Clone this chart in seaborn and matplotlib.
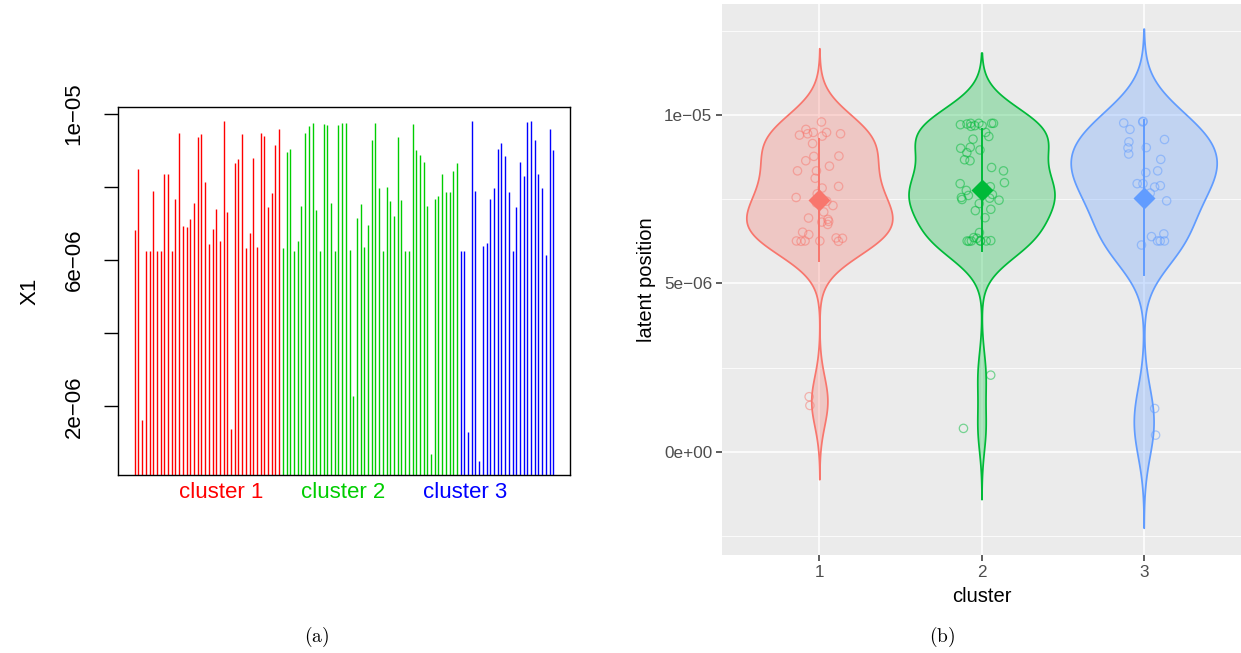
import numpy as np
import pandas as pd
import matplotlib
matplotlib.use("Agg")
import matplotlib.pyplot as plt
import seaborn as sns

# ---------------- data (values in units of 1e-06) ----------------
cluster1 = [6.82, 8.48, 1.64, 6.26, 6.25, 7.88, 6.25, 6.26, 8.34, 8.34,
            6.26, 7.66, 9.48, 6.94, 6.90, 7.12, 7.55, 9.37, 9.44, 8.12,
            6.45, 6.84, 7.39, 6.52, 9.79, 7.31, 1.38, 8.64, 8.77, 9.44,
            6.34, 6.75, 8.78, 6.35, 9.48, 9.40, 7.44, 7.83, 9.15, 9.57]
cluster2 = [6.34, 8.96, 9.04, 6.26, 6.51, 7.47, 9.48, 9.66, 9.75, 7.37,
            6.26, 9.73, 9.68, 7.55, 6.26, 9.68, 9.75, 9.75, 6.27, 2.28,
            7.16, 7.53, 6.36, 6.95, 9.28, 9.75, 7.96, 6.25, 7.99, 7.61,
            7.20, 9.36, 7.64, 6.26, 6.26, 9.71, 9.01, 8.88, 8.67, 7.49,
            0.70, 7.67, 7.76, 8.34, 7.87, 7.86, 8.44, 8.64]
cluster3 = [6.26, 6.26, 1.29, 9.79, 7.90, 0.50, 6.39, 6.47, 7.68, 7.96,
            9.03, 9.20, 8.84, 7.86, 6.26, 7.45, 8.68, 8.29, 9.76, 9.81,
            9.27, 8.34, 7.96, 6.14, 9.57, 9.02]
scale = 1e-6
cluster_names = ["1", "2", "3"]
bar_labels = ["cluster 1", "cluster 2", "cluster 3"]
left_yticks = [2e-6, 4e-6, 6e-6, 8e-6, 1e-5]
left_yticklabels = ["2e\u221206", "", "6e\u221206", "", "1e\u221205"]
right_yticks = [0, 5e-6, 1e-5]
right_yticklabels = ["0e+00", "5e\u221206", "1e\u221205"]

groups = [cluster1, cluster2, cluster3]
bar_cols = ["#FF0000", "#00CD00", "#0000FF"]
gg_cols = ["#F8766D", "#00BA38", "#619CFF"]

values = np.concatenate([np.array(g) * scale for g in groups])
labels = np.concatenate([[n] * len(g) for n, g in zip(cluster_names, groups)])
df = pd.DataFrame({"cluster": labels, "value": values})

plt.rcParams["font.family"] = ["Liberation Sans", "DejaVu Sans"]
plt.rcParams["mathtext.fontset"] = "cm"

W, H = 1241, 653
fig = plt.figure(figsize=(W / 100, H / 100), dpi=100)

# ---------------- left panel ----------------
ax1 = fig.add_axes([118 / W, 1 - 475 / H, (570 - 118) / W, (475 - 107) / H])
idx = np.arange(1, len(values) + 1)
cols = np.concatenate([[c] * len(g) for c, g in zip(bar_cols, groups)])
ax1.vlines(idx, 0, values, colors=cols, linewidth=1.0)
ax1.set_xlim(1 - 0.04 * (len(values) - 1), len(values) + 0.04 * (len(values) - 1))
rng = values.max() - values.min()
ax1.set_ylim(values.min() - 0.04 * rng, values.max() + 0.04 * rng)
ax1.set_xticks([])
ax1.set_yticks(left_yticks)
ax1.set_yticklabels(left_yticklabels, rotation=90, va="center", fontsize=16)
ax1.tick_params(axis="y", length=10, width=1.0, pad=14, color="black")
for s in ax1.spines.values():
    s.set_linewidth(1.0)
    s.set_color("black")
ax1.set_ylabel("X1", fontsize=16)
ax1.yaxis.set_label_coords((41 - 118) / 452, 0.5)
for lab, col, xf in zip(bar_labels, bar_cols, [0.228, 0.498, 0.768]):
    ax1.text(xf, -(492 - 475) / 368, lab, color=col, fontsize=16,
             ha="center", va="center", transform=ax1.transAxes)

# ---------------- right panel ----------------
ax2 = fig.add_axes([722 / W, 1 - 555 / H, (W - 722) / W, (555 - 4) / H])
ax2.set_facecolor("#EBEBEB")
pal = dict(zip(cluster_names, gg_cols))


def nrd0(kde):
    x = np.asarray(kde.dataset).ravel()
    n = x.size
    sd = x.std(ddof=1)
    q75, q25 = np.percentile(x, [75, 25])
    lo = min(sd, (q75 - q25) / 1.34)
    return 0.9 * lo * n ** (-0.2) / sd


sns.violinplot(data=df, x="cluster", y="value", hue="cluster", order=cluster_names,
               hue_order=cluster_names, palette=pal, cut=3, bw_method=nrd0,
               density_norm="width", width=0.9, inner=None, saturation=1,
               linewidth=1.2, gridsize=512, legend=False, ax=ax2)
for coll in ax2.collections:
    fc = coll.get_facecolor()
    if len(fc):
        r, g, b, _ = fc[0]
        coll.set_facecolor((r, g, b, 0.3))
        coll.set_edgecolor((r, g, b, 1.0))
        coll.set_linewidth(1.25)

n_before = len(ax2.collections)
np.random.seed(3)
sns.stripplot(data=df, x="cluster", y="value", hue="cluster", order=cluster_names,
              hue_order=cluster_names, palette=pal, jitter=0.15, size=6,
              linewidth=0.8, legend=False, ax=ax2)
for coll in ax2.collections[n_before:]:
    fcs = coll.get_facecolors()
    ecs = [(c[0], c[1], c[2], 0.5) for c in fcs]
    coll.set_edgecolors(ecs)
    coll.set_facecolors("none")
    coll.set_linewidth(0.9)

sns.pointplot(data=df, x="cluster", y="value", hue="cluster", order=cluster_names,
              hue_order=cluster_names, palette=pal, errorbar="sd", markers="D",
              linestyles="none", markersize=9, err_kws={"linewidth": 1.4},
              legend=False, ax=ax2)

ax2.set_xlim(-0.6, 2.6)
ax2.set_ylim(-3.056e-6, 13.29e-6)
ax2.set_yticks(right_yticks)
ax2.set_yticklabels(right_yticklabels)
ax2.set_yticks([-2.5e-6, 2.5e-6, 7.5e-6, 12.5e-6], minor=True)
ax2.set_xticks(range(len(cluster_names)))
ax2.set_xticklabels(cluster_names)
ax2.grid(which="major", color="white", linewidth=1.1)
ax2.grid(which="minor", axis="y", color="white", linewidth=0.55)
ax2.set_axisbelow(True)
for s in ax2.spines.values():
    s.set_visible(False)
ax2.tick_params(which="major", length=4, width=1.1, color="#333333",
                labelcolor="#4D4D4D", labelsize=12.3, pad=3)
ax2.tick_params(which="minor", length=0)
ax2.set_xlabel("cluster", fontsize=14.5, color="black")
ax2.set_ylabel("latent position", fontsize=14.5, color="black")
ax2.xaxis.set_label_coords(0.5, -0.058)
ax2.yaxis.set_label_coords((656 - 722) / 519, 0.5)

# ---------------- captions ----------------
fig.text(317 / W, 1 - 637 / H, r"$\mathrm{(a)}$", ha="center", va="center", fontsize=14)
fig.text(942 / W, 1 - 637 / H, r"$\mathrm{(b)}$", ha="center", va="center", fontsize=14)

fig.savefig("out.png", dpi=100)
